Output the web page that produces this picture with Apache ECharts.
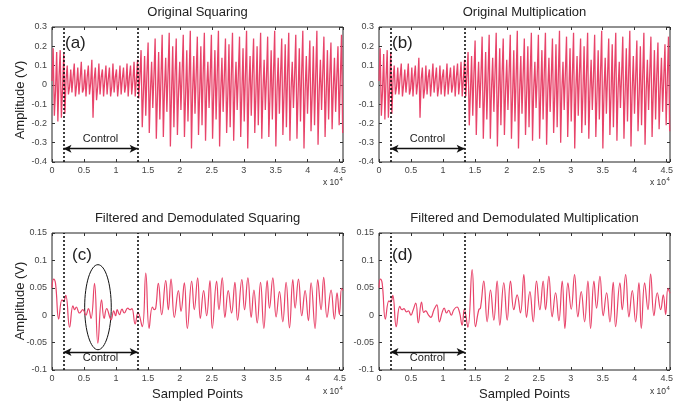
<!DOCTYPE html>
<html><head><meta charset="utf-8">
<script src="https://cdn.jsdelivr.net/npm/echarts@6/dist/echarts.min.js"></script>
<style>html,body{margin:0;padding:0;background:#fff}#c{width:692px;height:407px}</style>
</head><body><div id="c"></div>
<script>
// ---------------- data ----------------
const titles = ['Original Squaring', 'Original Multiplication', 'Filtered and Demodulated Squaring', 'Filtered and Demodulated Multiplication'];
const panelTags = ['(a)', '(b)', '(c)', '(d)'];
const xMax = 45520;
const xTickStep = 5000;
const controlStart = 1800;
const controlEnd = 13400;
const topYMin = -0.4, topYMax = 0.3, topYStep = 0.1;
const botYMin = -0.1, botYMax = 0.15, botYStep = 0.05;
const topArrowY = -0.331, botArrowY = -0.067;
const ellipseCenter = [7190, 0.0146];
const ellipseHalf = [2080, 0.0776];

// raw (aliased carrier) signals: one spike per step, values read per spike
const spikeStep = 550;
const sqPeak = [0.19,0.17,0.18,0.16,
  0.10,0.08,0.11,0.09,0.12,0.08,0.10,0.13,0.09,0.11,0.08,0.10,0.09,0.11,0.08,0.10,0.09,0.11,0.10,0.12,0.13,
  0.18,0.15,0.22,0.12,0.24,0.17,0.26,0.14,0.27,0.20,0.24,0.12,0.26,0.18,0.28,0.15,0.25,0.20,0.27,0.12,0.26,0.18,0.28,0.14,0.24,0.21,0.27,0.12,0.25,0.19,0.28,0.15,0.24,0.20,0.27,0.13,0.25,0.18,0.28,0.14,0.24,0.21,0.27,0.12,0.26,0.19,0.28,0.15,0.23,0.20,0.28,0.13,0.25,0.18,0.22,0.14,0.20,0.26];
const sqTrough = [-0.16,-0.19,-0.17,-0.15,
  -0.05,-0.04,-0.06,-0.05,-0.04,-0.06,-0.05,-0.17,-0.08,-0.05,-0.06,-0.05,-0.06,-0.04,-0.06,-0.05,-0.04,-0.06,-0.05,-0.06,-0.07,
  -0.22,-0.16,-0.25,-0.12,-0.28,-0.18,-0.27,-0.14,-0.32,-0.22,-0.26,-0.13,-0.27,-0.19,-0.33,-0.15,-0.26,-0.21,-0.29,-0.12,-0.28,-0.18,-0.32,-0.14,-0.25,-0.22,-0.29,-0.13,-0.27,-0.19,-0.33,-0.16,-0.25,-0.21,-0.28,-0.13,-0.27,-0.18,-0.32,-0.15,-0.26,-0.22,-0.29,-0.12,-0.28,-0.19,-0.33,-0.15,-0.24,-0.21,-0.31,-0.13,-0.27,-0.18,-0.23,-0.14,-0.21,-0.25];
const sqMid = [0.02,-0.03,0.04,-0.02,
  0.03,-0.01,0.04,0.00,0.03,-0.02,0.04,0.01,0.03,-0.01,0.04,0.02,0.03,-0.01,0.04,0.01,0.03,0.00,0.04,0.02,0.03,
  0.05,-0.04,0.06,-0.03,0.05,-0.05,0.04,-0.02,0.06,-0.04,0.05,-0.03,0.06,-0.05,0.04,-0.03,0.05,-0.04,0.06,-0.02,0.05,-0.04,0.06,-0.03,0.04,-0.05,0.05,-0.03,0.06,-0.04,0.05,-0.02,0.06,-0.04,0.05,-0.03,0.04,-0.05,0.06,-0.03,0.05,-0.04,0.06,-0.02,0.05,-0.04,0.06,-0.03,0.04,-0.05,0.05,-0.03,0.06,-0.04,0.05,-0.02,0.04,0.03];

const mulPeak = [0.19,0.16,0.18,0.17,
  0.10,0.09,0.11,0.08,0.11,0.09,0.10,0.14,0.09,0.10,0.08,0.11,0.09,0.10,0.08,0.11,0.09,0.10,0.11,0.12,0.13,
  0.17,0.15,0.23,0.12,0.25,0.17,0.26,0.14,0.27,0.19,0.24,0.13,0.26,0.18,0.28,0.15,0.24,0.20,0.27,0.12,0.26,0.18,0.27,0.14,0.24,0.21,0.28,0.12,0.25,0.19,0.27,0.15,0.24,0.20,0.27,0.13,0.26,0.18,0.28,0.14,0.24,0.21,0.27,0.12,0.25,0.19,0.28,0.15,0.23,0.20,0.27,0.13,0.25,0.18,0.22,0.14,0.21,0.25];
const mulTrough = [-0.16,-0.18,-0.17,-0.15,
  -0.05,-0.05,-0.06,-0.04,-0.05,-0.06,-0.05,-0.17,-0.07,-0.05,-0.06,-0.04,-0.06,-0.05,-0.06,-0.05,-0.04,-0.06,-0.05,-0.06,-0.06,
  -0.21,-0.16,-0.26,-0.12,-0.28,-0.18,-0.28,-0.14,-0.32,-0.21,-0.26,-0.13,-0.28,-0.19,-0.33,-0.15,-0.26,-0.22,-0.29,-0.12,-0.28,-0.18,-0.31,-0.14,-0.25,-0.22,-0.30,-0.13,-0.27,-0.19,-0.33,-0.16,-0.25,-0.21,-0.28,-0.13,-0.27,-0.18,-0.33,-0.15,-0.26,-0.22,-0.29,-0.12,-0.28,-0.19,-0.32,-0.15,-0.24,-0.21,-0.31,-0.13,-0.27,-0.18,-0.23,-0.14,-0.21,-0.24];
const mulMid = [0.02,-0.03,0.03,-0.02,
  0.03,-0.01,0.04,0.00,0.03,-0.02,0.04,0.01,0.03,-0.02,0.04,0.02,0.03,-0.01,0.04,0.01,0.03,0.00,0.04,0.02,0.03,
  0.05,-0.04,0.06,-0.03,0.05,-0.05,0.04,-0.02,0.06,-0.04,0.05,-0.03,0.06,-0.05,0.04,-0.03,0.05,-0.04,0.06,-0.02,0.05,-0.04,0.06,-0.03,0.04,-0.05,0.05,-0.03,0.06,-0.04,0.05,-0.02,0.06,-0.04,0.05,-0.03,0.04,-0.05,0.06,-0.03,0.05,-0.04,0.06,-0.02,0.05,-0.04,0.06,-0.03,0.04,-0.05,0.05,-0.03,0.06,-0.04,0.05,-0.02,0.04,0.03];

// filtered & demodulated signals: turning points (sample index, volts)
const sqFiltX = [0,250,550,1050,1550,1800,2150,2750,3270,3550,3800,4300,4830,5300,5700,6100,6650,7170,7750,8150,8550,9250,9650,9950,10200,10550,10950,11300,11850,12200,12500,13000,13450,14120,14670,15190,15700,16000,16230,16640,17160,17790,18200,18620,19140,19770,20180,20700,21170,21850,22260,22780,23200,23720,24190,24710,25070,25750,26110,26630,27050,27570,28090,28610,29030,29700,30120,30640,31160,31580,32100,32620,33140,33660,34020,34540,35060,35580,36100,36620,37150,37670,38030,38550,39070,39590,40110,40530,41150,41570,42090,42500,43020,43650,44170,44590,44950,45310,45520];
const sqFiltY = [0.050,0.066,0.058,-0.007,0.028,0.026,0.036,-0.022,0.017,0.010,0.015,0.004,0.010,0.000,0.012,-0.006,0.058,-0.051,0.028,-0.006,0.012,-0.008,0.008,-0.001,0.010,0.001,0.011,0.004,0.013,0.010,0.012,-0.016,0.005,-0.021,0.077,-0.024,0.015,0.010,0.013,0.058,0.001,0.063,0.010,0.066,-0.004,0.045,0.007,0.059,-0.024,0.062,0.010,0.068,-0.006,0.045,-0.001,0.063,-0.024,0.062,0.010,0.068,-0.004,0.045,0.004,0.060,-0.009,0.065,0.010,0.068,-0.004,0.046,-0.014,0.060,-0.024,0.063,0.013,0.068,-0.003,0.043,-0.012,0.060,-0.023,0.065,0.013,0.066,-0.001,0.045,-0.010,0.059,-0.024,0.065,0.010,0.069,-0.004,0.046,-0.007,0.041,0.001,0.049,0.045];
const mulFiltX = [0,210,500,1000,1550,1850,2150,2700,3250,3600,3900,4300,4600,5000,5300,5750,6150,6650,7000,7300,7700,8100,8600,9050,9450,9900,10200,10550,10900,11300,11700,12200,12600,13000,13350,13900,14570,15090,15610,15870,16390,16920,17440,17960,18480,18900,19520,20050,20570,21090,21610,22130,22655,23075,23600,24120,24640,25160,25680,26050,26570,27090,27620,28140,28660,29080,29550,30070,30590,31110,31630,32160,32680,33100,33620,34030,34560,35080,35600,36120,36640,37010,37690,38050,38580,39100,39620,40140,40660,41030,41550,42070,42490,43010,43530,44060,44470,44840,45200,45520];
const mulFiltY = [0.050,0.066,0.058,-0.007,0.026,0.024,0.036,-0.021,0.016,0.010,0.012,0.006,0.008,0.000,0.008,0.022,-0.014,0.024,0.005,0.008,0.001,-0.004,0.010,0.019,-0.012,0.006,0.013,0.004,0.009,0.000,0.010,0.015,0.005,-0.018,0.011,-0.022,0.083,-0.021,0.010,0.013,0.062,-0.012,0.046,-0.009,0.062,-0.018,0.059,-0.009,0.062,0.010,0.037,0.004,0.074,-0.004,0.043,-0.012,0.062,0.010,0.062,0.010,0.071,-0.003,0.041,-0.010,0.062,-0.024,0.059,0.011,0.074,-0.003,0.043,-0.012,0.062,-0.024,0.062,0.013,0.071,-0.001,0.041,-0.012,0.060,-0.021,0.059,0.010,0.074,-0.003,0.045,-0.012,0.059,-0.024,0.059,0.010,0.075,-0.001,0.041,0.010,0.037,0.001,0.049,0.040];

// ---------------- build ----------------
function spikes(mid, peak, trough) {
  const out = [];
  for (let i = 0; i < peak.length; i++) {
    const x0 = i * spikeStep;
    out.push([x0, mid[i]]);
    out.push([x0 + spikeStep / 3, peak[i]]);
    out.push([x0 + 2 * spikeStep / 3, trough[i]]);
  }
  return out;
}
function zip(xs, ys) { return xs.map((x, i) => [x, ys[i]]); }

const FONT = '"Liberation Sans", Arial, Helvetica, sans-serif';
const LINE = '#E8446A';
const grids = [
  {left: 52, top: 27, width: 291, height: 135},
  {left: 379, top: 27, width: 291, height: 135},
  {left: 52, top: 233, width: 291, height: 137},
  {left: 379, top: 233, width: 291, height: 137}
].map(g => Object.assign(g, {show: true, borderColor: '#222', borderWidth: 1, backgroundColor: 'transparent'}));

const fmtNum = v => String(Math.round(v * 100) / 100);
const xAxes = [], yAxes = [];
for (let side = 0; side < 2; side++) {
  for (let g = 0; g < 4; g++) {
    const main = side === 0;
    xAxes.push({
      type: 'value', gridIndex: g, position: main ? 'bottom' : 'top',
      min: 0, max: xMax, interval: xTickStep,
      axisLine: {show: false, onZero: false}, splitLine: {show: false},
      axisTick: {show: true, inside: true, length: 3, lineStyle: {color: '#333'}},
      axisLabel: {show: main, fontSize: 9, color: '#444', margin: 4, fontFamily: FONT,
        formatter: v => (v % xTickStep === 0 ? String(v / 10000) : '')}
    });
    const top = g < 2;
    yAxes.push({
      type: 'value', gridIndex: g, position: main ? 'left' : 'right',
      min: top ? topYMin : botYMin, max: top ? topYMax : botYMax, interval: top ? topYStep : botYStep,
      axisLine: {show: false, onZero: false}, splitLine: {show: false},
      axisTick: {show: true, inside: true, length: 3, lineStyle: {color: '#333'}},
      axisLabel: {show: main, fontSize: 9, color: '#444', margin: 5, fontFamily: FONT, formatter: fmtNum}
    });
  }
}

function marks(top) {
  const ay = top ? topArrowY : botArrowY;
  const dash = {type: [2, 2], width: 1.5, color: '#000'};
  return {
    silent: true, animation: false, symbol: ['none', 'none'],
    label: {show: true, formatter: '{b}', position: top ? 'insideMiddleTop' : 'insideMiddleBottom',
      distance: top ? 4 : 1, fontSize: 11, color: '#222', fontFamily: FONT},
    lineStyle: {color: '#111', type: 'solid', width: 1.3},
    emphasis: {disabled: true},
    data: [
      {xAxis: controlStart, name: '', lineStyle: dash, label: {show: false}},
      {xAxis: controlEnd, name: '', lineStyle: dash, label: {show: false}},
      [{coord: [controlStart, ay], name: 'Control', symbol: 'arrow', symbolSize: [6, 8]},
       {coord: [controlEnd, ay], symbol: 'arrow', symbolSize: [6, 8]}]
    ]
  };
}

const seriesData = [
  spikes(sqMid, sqPeak, sqTrough),
  spikes(mulMid, mulPeak, mulTrough),
  zip(sqFiltX, sqFiltY),
  zip(mulFiltX, mulFiltY)
];
const series = seriesData.map((d, g) => ({
  type: 'line', xAxisIndex: g, yAxisIndex: g, data: d, showSymbol: false, symbol: 'none',
  smooth: g >= 2 ? 0.45 : false, animation: false, silent: true,
  lineStyle: {color: LINE, width: g >= 2 ? 1.2 : 1.3},
  markLine: marks(g < 2)
}));

const chart = echarts.init(document.getElementById('c'), null, {renderer: 'canvas'});
chart.setOption({backgroundColor: '#fff', animation: false, grid: grids, xAxis: xAxes, yAxis: yAxes, series: series});

// ---------------- annotations ----------------
const els = [];
const txt = (x, y, text, size, extra) => els.push(Object.assign({type: 'text', x: x, y: y, silent: true,
  style: {text: text, fontSize: size, fontFamily: FONT, fill: '#222', textAlign: 'center', textVerticalAlign: 'middle'}}, extra || {}));
grids.forEach((g, i) => {
  const cx = g.left + g.width / 2;
  const top = i < 2;
  txt(cx, top ? 12 : 218, titles[i], 13);
  const ex = g.left + g.width - 4, ey = g.top + g.height + (top ? 21 : 22);
  els.push({type: 'text', x: ex, y: ey, silent: true, style: {text: 'x 10', fontSize: 8.5, fontFamily: FONT, fill: '#333', textAlign: 'right', textVerticalAlign: 'middle'}});
  els.push({type: 'text', x: ex + 0.5, y: ey - 4, silent: true, style: {text: '4', fontSize: 6, fontFamily: FONT, fill: '#333', textAlign: 'left', textVerticalAlign: 'middle'}});
  els.push({type: 'text', x: g.left + (i === 2 ? 20 : 13), y: g.top + (top ? 16 : 22), silent: true,
    style: {text: panelTags[i], fontSize: 17, fontFamily: FONT, fill: '#222', textAlign: 'left', textVerticalAlign: 'middle'}});
  if (i % 2 === 0) {
    txt(20, top ? 100 : 301, 'Amplitude (V)', 13, {rotation: Math.PI / 2});
  }
  if (!top) txt(cx, 394, 'Sampled Points', 13);
});
const c0 = chart.convertToPixel({gridIndex: 2}, ellipseCenter);
const c1 = chart.convertToPixel({gridIndex: 2}, [ellipseCenter[0] + ellipseHalf[0], ellipseCenter[1] + ellipseHalf[1]]);
els.push({type: 'ellipse', silent: true, shape: {cx: c0[0], cy: c0[1], rx: Math.abs(c1[0] - c0[0]), ry: Math.abs(c1[1] - c0[1])},
  style: {fill: 'none', stroke: '#111', lineWidth: 1}});
chart.setOption({graphic: els});
</script>
</body></html>
